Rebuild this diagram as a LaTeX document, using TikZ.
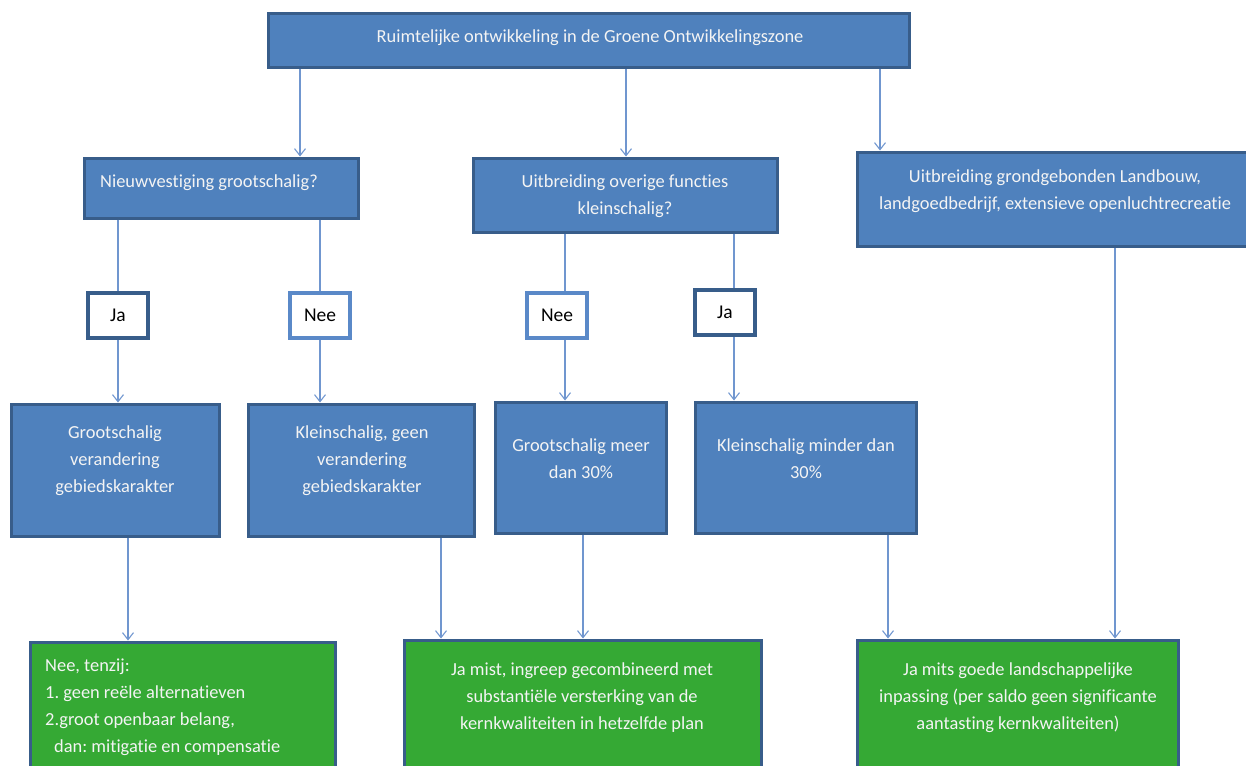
\documentclass[tikz,border=0pt]{standalone}
\usepackage{fontspec}
\setmainfont{Carlito}[Ligatures={NoCommon}]
\frenchspacing
\usetikzlibrary{arrows.meta}
\definecolor{boxblue}{HTML}{4F81BD}
\definecolor{boxedge}{HTML}{385D8A}
\definecolor{lightedge}{HTML}{5A89C8}
\definecolor{boxgreen}{HTML}{35A934}
\definecolor{arrowblue}{HTML}{7096CF}
\definecolor{txtwhite}{HTML}{F4F4F4}
\tikzset{
  bluebox/.style={draw=boxedge, line width=3pt, fill=boxblue, inner sep=0pt},
  greenbox/.style={draw=boxedge, line width=3pt, fill=boxgreen, inner sep=0pt},
  jabox/.style={draw=boxedge, line width=3.5pt, fill=white, inner sep=0pt, minimum width=60pt, minimum height=45pt, font=\fontsize{19.5}{22}\selectfont, text=black},
  neebox/.style={jabox, draw=lightedge},
  wtext/.style={text=txtwhite, font=\fontsize{18.4}{27}\selectfont\frenchspacing, inner sep=0pt},
  conn/.style={draw=arrowblue, line width=1.1pt},
  arr/.style={conn, -{Straight Barb[length=7pt,width=11pt]}}
}
\begin{document}
\begin{tikzpicture}[x=1pt,y=-1pt]
\useasboundingbox (0,0) rectangle (1246,765);
\clip (0,0) rectangle (1246,765);
% boxes
\node[bluebox, minimum width=641pt, minimum height=54pt] (top) at (588.5,41) {};
\node[bluebox, minimum width=274pt, minimum height=60pt] (n1) at (221,188) {};
\node[bluebox, minimum width=304pt, minimum height=74pt] (u1) at (625,195) {};
\node[bluebox, minimum width=392pt, minimum height=94pt] (gr1) at (1053,199) {};
\node[jabox] (ja1) at (118,315.5) {Ja};
\node[neebox] (nee1) at (320,315.5) {Nee};
\node[neebox] (nee2) at (557,315.5) {Nee};
\node[jabox] (ja2) at (725,312.5) {Ja};
\node[bluebox, minimum width=208pt, minimum height=132pt] (g1) at (115,470) {};
\node[bluebox, minimum width=226pt, minimum height=132pt] (k1) at (361,470) {};
\node[bluebox, minimum width=171pt, minimum height=131pt] (gm) at (580.5,467.5) {};
\node[bluebox, minimum width=221pt, minimum height=131pt] (km) at (805.5,467.5) {};
\node[greenbox, minimum width=305pt, minimum height=150pt] (G1) at (182.5,717) {};
\node[greenbox, minimum width=357pt, minimum height=150pt] (G2) at (582.5,715) {};
\node[greenbox, minimum width=321pt, minimum height=150pt] (G3) at (1017.5,715) {};
% texts
\node[wtext] (ttop) at (590,38) {Ruimtelijke ontwikkeling in de Groene Ontwikkelingszone};
\node[wtext, anchor=west] (tn1) at (100,183) {Nieuwvestiging grootschalig?};
\node[wtext, align=center] (tu1) at (625,196) {Uitbreiding overige functies\\kleinschalig?};
\node[wtext, align=center] (tgr1) at (1055,191) {Uitbreiding grondgebonden Landbouw,\\landgoedbedrijf, extensieve openluchtrecreatie};
\node[wtext, align=center] (tg1) at (115,461) {Grootschalig\\verandering\\gebiedskarakter};
\node[wtext, align=center] (tk1) at (362,461) {Kleinschalig, geen\\verandering\\gebiedskarakter};
\node[wtext, align=center] (tgm) at (581,459) {Grootschalig meer\\dan 30\%};
\node[wtext, align=center] (tkm) at (806,459) {Kleinschalig minder dan\\30\%};
\node[wtext, align=left, anchor=north west] (tG1) at (45,659) {Nee, tenzij:\\1. geen re\"ele alternatieven\\2.groot openbaar belang,\\\hspace*{9pt}dan: mitigatie en compensatie};
\node[wtext, align=center] (tG2) at (582,698) {Ja mist, ingreep gecombineerd met\\substanti\"ele versterking van de\\kernkwaliteiten in hetzelfde plan};
\node[wtext, align=center] (tG3) at (1018,698) {Ja mits goede landschappelijke\\inpassing (per saldo geen significante\\aantasting kernkwaliteiten)};
% x positions of connectors
\coordinate (xa) at (300,0);
\coordinate (xb) at (626,0);
\coordinate (xc) at (880,0);
\coordinate (xd) at (565,0);
\coordinate (xe) at (734,0);
\coordinate (xf) at (128,0);
\coordinate (xg) at (441,0);
\coordinate (xh) at (583,0);
\coordinate (xi) at (888,0);
\coordinate (xj) at (1115,0);
% connectors
\draw[arr] (top.south -| xa) -- (n1.north -| xa);
\draw[arr] (top.south -| xb) -- (u1.north -| xb);
\draw[arr] (top.south -| xc) -- (gr1.north -| xc);
\draw[conn] (n1.south -| ja1) -- (ja1.north);
\draw[arr] (ja1.south) -- (g1.north -| ja1);
\draw[conn] (n1.south -| nee1) -- (nee1.north);
\draw[arr] (nee1.south) -- (k1.north -| nee1);
\draw[conn] (u1.south -| xd) -- (nee2.north -| xd);
\draw[arr] (nee2.south -| xd) -- (gm.north -| xd);
\draw[conn] (u1.south -| xe) -- (ja2.north -| xe);
\draw[arr] (ja2.south -| xe) -- (km.north -| xe);
\draw[arr] (g1.south -| xf) -- (G1.north -| xf);
\draw[arr] (k1.south -| xg) -- (G2.north -| xg);
\draw[arr] (gm.south -| xh) -- (G2.north -| xh);
\draw[arr] (km.south -| xi) -- (G3.north -| xi);
\draw[arr] (gr1.south -| xj) -- (G3.north -| xj);
\end{tikzpicture}
\end{document}
